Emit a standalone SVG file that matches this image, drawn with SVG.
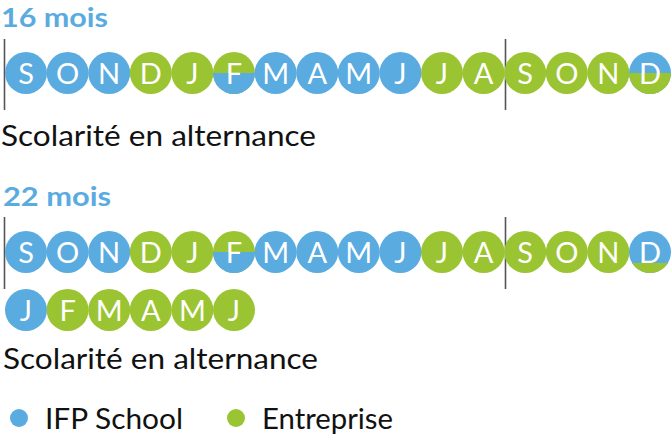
<svg xmlns="http://www.w3.org/2000/svg" width="672" height="441" viewBox="0 0 672 441">
<style>
.b{fill:#5aabe0}
.g{fill:#9bc432}
.m{font-family:Lato,"Open Sans","DejaVu Sans",sans-serif;font-size:29px;font-weight:400;fill:#fff;text-anchor:middle}
.h{font-family:Lato,"Open Sans","DejaVu Sans",sans-serif;font-size:26px;font-weight:bold;fill:#5aabe0}
.t{font-family:Lato,"Open Sans","DejaVu Sans",sans-serif;font-size:28px;font-weight:400;fill:#111}
.d{stroke:#555;stroke-width:1.6}
</style>
<rect width="672" height="441" fill="#fff"/>
<g id="title16"><text class="h" x="1" y="27" textLength="107" lengthAdjust="spacingAndGlyphs">16 mois</text></g>
<g id="connectors">
<line class="d" x1="4.5" y1="39" x2="4.5" y2="110"/>
<line class="d" x1="505.5" y1="39" x2="505.5" y2="110"/>
<line class="d" x1="4.5" y1="217" x2="4.5" y2="289"/>
<line class="d" x1="505.5" y1="217" x2="505.5" y2="289"/>
</g>
<g id="row1">
<g id="r1-0"><circle class="b" cx="26" cy="73" r="21"/><text class="m" x="26" y="83.5">S</text></g>
<g id="r1-1"><circle class="b" cx="67.6" cy="73" r="21"/><text class="m" x="67.6" y="83.5">O</text></g>
<g id="r1-2"><circle class="b" cx="109.2" cy="73" r="21"/><text class="m" x="109.2" y="83.5">N</text></g>
<g id="r1-3"><circle class="g" cx="150.8" cy="73" r="21"/><text class="m" x="150.8" y="83.5">D</text></g>
<g id="r1-4"><circle class="g" cx="192.4" cy="73" r="21"/><text class="m" x="192.4" y="83.5">J</text></g>
<g id="r1-5"><circle class="g" cx="234" cy="73" r="21"/><path class="b" d="M213 73 A21 21 0 0 0 255 73 Z"/><text class="m" x="234" y="83.5">F</text></g>
<g id="r1-6"><circle class="b" cx="275.6" cy="73" r="21"/><text class="m" x="275.6" y="83.5">M</text></g>
<g id="r1-7"><circle class="b" cx="317.2" cy="73" r="21"/><text class="m" x="317.2" y="83.5">A</text></g>
<g id="r1-8"><circle class="b" cx="358.8" cy="73" r="21"/><text class="m" x="358.8" y="83.5">M</text></g>
<g id="r1-9"><circle class="b" cx="400.4" cy="73" r="21"/><text class="m" x="400.4" y="83.5">J</text></g>
<g id="r1-10"><circle class="g" cx="442" cy="73" r="21"/><text class="m" x="442" y="83.5">J</text></g>
<g id="r1-11"><circle class="g" cx="483.6" cy="73" r="21"/><text class="m" x="483.6" y="83.5">A</text></g>
<g id="r1-12"><circle class="g" cx="525.2" cy="73" r="21"/><text class="m" x="525.2" y="83.5">S</text></g>
<g id="r1-13"><circle class="g" cx="566.8" cy="73" r="21"/><text class="m" x="566.8" y="83.5">O</text></g>
<g id="r1-14"><circle class="g" cx="608.4" cy="73" r="21"/><text class="m" x="608.4" y="83.5">N</text></g>
<g id="r1-15"><circle class="b" cx="650" cy="73" r="21"/><path class="g" d="M629 73 A21 21 0 0 0 671 73 Z"/><text class="m" x="650" y="83.5">D</text></g>
</g>
<g id="label1"><text class="t" x="1" y="146" textLength="315" lengthAdjust="spacingAndGlyphs">Scolarité en alternance</text></g>
<g id="title22"><text class="h" x="3" y="206" textLength="108" lengthAdjust="spacingAndGlyphs">22 mois</text></g>
<g id="row2">
<g id="r2-0"><circle class="b" cx="26" cy="252" r="21"/><text class="m" x="26" y="262.5">S</text></g>
<g id="r2-1"><circle class="b" cx="67.6" cy="252" r="21"/><text class="m" x="67.6" y="262.5">O</text></g>
<g id="r2-2"><circle class="b" cx="109.2" cy="252" r="21"/><text class="m" x="109.2" y="262.5">N</text></g>
<g id="r2-3"><circle class="g" cx="150.8" cy="252" r="21"/><text class="m" x="150.8" y="262.5">D</text></g>
<g id="r2-4"><circle class="g" cx="192.4" cy="252" r="21"/><text class="m" x="192.4" y="262.5">J</text></g>
<g id="r2-5"><circle class="g" cx="234" cy="252" r="21"/><path class="b" d="M213 252 A21 21 0 0 0 255 252 Z"/><text class="m" x="234" y="262.5">F</text></g>
<g id="r2-6"><circle class="b" cx="275.6" cy="252" r="21"/><text class="m" x="275.6" y="262.5">M</text></g>
<g id="r2-7"><circle class="b" cx="317.2" cy="252" r="21"/><text class="m" x="317.2" y="262.5">A</text></g>
<g id="r2-8"><circle class="b" cx="358.8" cy="252" r="21"/><text class="m" x="358.8" y="262.5">M</text></g>
<g id="r2-9"><circle class="b" cx="400.4" cy="252" r="21"/><text class="m" x="400.4" y="262.5">J</text></g>
<g id="r2-10"><circle class="g" cx="442" cy="252" r="21"/><text class="m" x="442" y="262.5">J</text></g>
<g id="r2-11"><circle class="g" cx="483.6" cy="252" r="21"/><text class="m" x="483.6" y="262.5">A</text></g>
<g id="r2-12"><circle class="g" cx="525.2" cy="252" r="21"/><text class="m" x="525.2" y="262.5">S</text></g>
<g id="r2-13"><circle class="g" cx="566.8" cy="252" r="21"/><text class="m" x="566.8" y="262.5">O</text></g>
<g id="r2-14"><circle class="g" cx="608.4" cy="252" r="21"/><text class="m" x="608.4" y="262.5">N</text></g>
<g id="r2-15"><circle class="b" cx="650" cy="252" r="21"/><path class="g" d="M632.1 263 A21 21 0 0 0 667.9 263 Z"/><text class="m" x="650" y="262.5">D</text></g>
</g>
<g id="row3">
<g id="r3-0"><circle class="b" cx="26" cy="310" r="21"/><text class="m" x="26" y="320.5">J</text></g>
<g id="r3-1"><circle class="g" cx="67.6" cy="310" r="21"/><text class="m" x="67.6" y="320.5">F</text></g>
<g id="r3-2"><circle class="g" cx="109.2" cy="310" r="21"/><text class="m" x="109.2" y="320.5">M</text></g>
<g id="r3-3"><circle class="g" cx="150.8" cy="310" r="21"/><text class="m" x="150.8" y="320.5">A</text></g>
<g id="r3-4"><circle class="g" cx="192.4" cy="310" r="21"/><text class="m" x="192.4" y="320.5">M</text></g>
<g id="r3-5"><circle class="g" cx="234" cy="310" r="21"/><text class="m" x="234" y="320.5">J</text></g>
</g>
<g id="label2"><text class="t" x="3" y="369" textLength="315" lengthAdjust="spacingAndGlyphs">Scolarité en alternance</text></g>
<g id="legend-ifp"><circle class="b" cx="19" cy="418" r="9"/><text class="t" x="45" y="429" textLength="138" lengthAdjust="spacingAndGlyphs">IFP School</text></g>
<g id="legend-ent"><circle class="g" cx="236" cy="418" r="9"/><text class="t" x="262" y="429" textLength="131" lengthAdjust="spacingAndGlyphs">Entreprise</text></g>
</svg>
